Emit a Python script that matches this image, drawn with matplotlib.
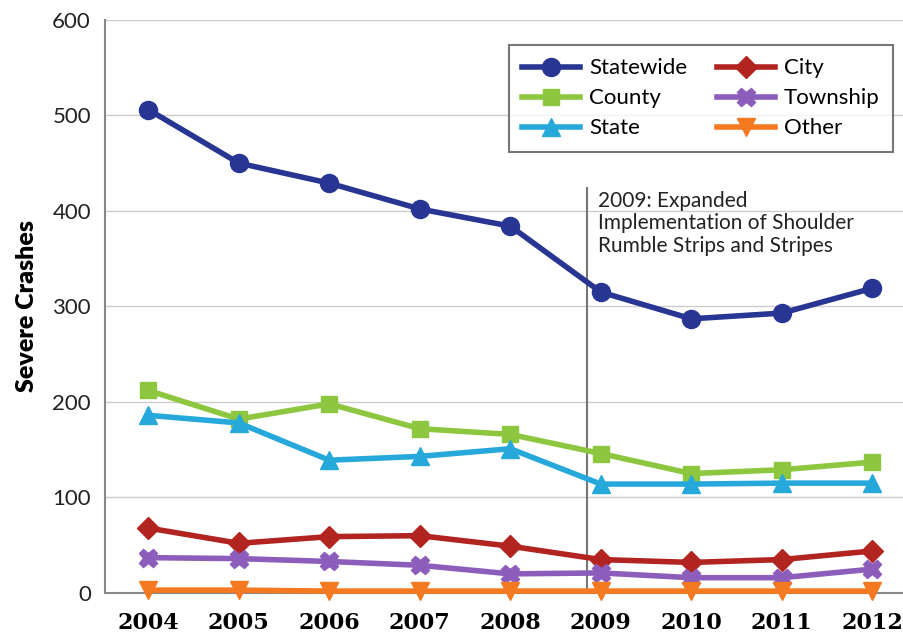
import matplotlib
matplotlib.use("Agg")
import matplotlib.pyplot as plt

years = [2004, 2005, 2006, 2007, 2008, 2009, 2010, 2011, 2012]
statewide = [506, 450, 429, 402, 384, 315, 287, 293, 319]
county = [212, 182, 198, 172, 166, 146, 125, 129, 137]
state = [186, 178, 139, 143, 151, 114, 114, 115, 115]
city = [68, 52, 59, 60, 49, 35, 32, 35, 44]
township = [37, 36, 33, 29, 20, 21, 16, 16, 25]
other = [3, 3, 2, 2, 2, 2, 2, 2, 2]

series = [
    ("Statewide", statewide, "#283593", "o"),
    ("County", county, "#8DC63F", "s"),
    ("State", state, "#26A9DA", "^"),
    ("City", city, "#B22420", "D"),
    ("Township", township, "#8C5DBA", "X"),
    ("Other", other, "#F47920", "v"),
]

fig = plt.figure(figsize=(9.04, 6.39), dpi=100)
ax = fig.add_axes([0.116, 0.072, 0.884, 0.897])

sizes = {"o": 13, "s": 12, "^": 13, "D": 11, "X": 13, "v": 13}
for name, vals, col, mk in series:
    ax.plot(years, vals, color=col, lw=4, marker=mk, markersize=sizes[mk],
            markeredgecolor=col, label=name, zorder=3, clip_on=False)

ax.set_ylim(0, 600)
ax.set_xlim(2003.52, 2012.35)
ax.set_yticks(range(0, 601, 100))
ax.set_xticks(years)
ax.grid(axis="y", color="#cccccc", lw=1)
ax.set_axisbelow(True)
for s in ["top", "right"]:
    ax.spines[s].set_visible(False)
ax.spines["left"].set_color("#888888")
ax.spines["bottom"].set_color("#888888")
ax.spines["left"].set_linewidth(1.5)
ax.spines["bottom"].set_linewidth(1.5)
ax.tick_params(axis="both", length=0)
ax.tick_params(axis="y", labelsize=16, pad=10)
ax.tick_params(axis="x", pad=14)
for lab in ax.get_yticklabels():
    lab.set_family("Lato")
    lab.set_color("#222222")
for lab in ax.get_xticklabels():
    lab.set_family("DejaVu Serif")
    lab.set_fontweight("bold")
    lab.set_fontsize(16)

ax.set_ylabel("Severe Crashes", fontsize=18, fontweight="heavy", family="Lato", labelpad=10)

ax.plot([2008.85, 2008.85], [0, 424], color="#777777", lw=1.5, zorder=2)
ax.text(2008.97, 421, "2009: Expanded\nImplementation of Shoulder\nRumble Strips and Stripes",
        fontsize=15, family="Lato", va="top", ha="left", linespacing=1.15, color="#222222")

leg = ax.legend(ncol=2, loc="upper right", bbox_to_anchor=(0.986, 0.956),
                borderaxespad=0,
                prop={"family": "Lato", "size": 16}, frameon=True, fancybox=False,
                handlelength=2.6, columnspacing=1.35, labelspacing=0.45,
                handletextpad=0.4, borderpad=0.6)
leg.get_frame().set_edgecolor("#555555")
leg.get_frame().set_linewidth(1.5)

fig.savefig("out.png", dpi=100)
